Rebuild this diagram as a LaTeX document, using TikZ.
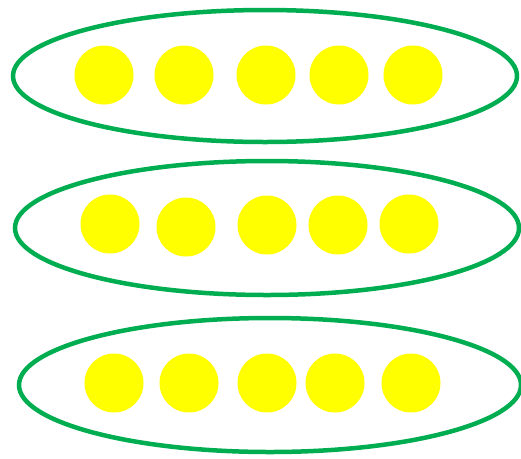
\documentclass[tikz,border=0pt]{standalone}
\definecolor{grn}{HTML}{00AD50}
\definecolor{ylw}{HTML}{FFFF00}
\tikzset{
  ring/.style={draw=grn, line width=4.5pt},
  dot/.style={circle, fill=ylw, inner sep=0pt, minimum size=59pt}
}
\begin{document}
\begin{tikzpicture}[x=1pt,y=-1pt]
\useasboundingbox (0,0) rectangle (521,458);
\draw[ring] (265,76) ellipse [x radius=252, y radius=66];
\draw[ring] (267,228) ellipse [x radius=252, y radius=67];
\draw[ring] (270,385) ellipse [x radius=251, y radius=67];
\foreach \x/\n in {104/a,184/b,266/c,339/d,413/e}{\node[dot] (r1\n) at (\x,75) {};}
\node[dot] (r2a) at (110,224) {};
\node[dot] (r2b) at (186,227) {};
\node[dot] (r2c) at (267,225) {};
\node[dot] (r2d) at (338,225) {};
\node[dot] (r2e) at (409,224) {};
\foreach \x/\n in {114/a,189/b,267/c,335/d,411/e}{\node[dot] (r3\n) at (\x,383) {};}
\end{tikzpicture}
\end{document}
